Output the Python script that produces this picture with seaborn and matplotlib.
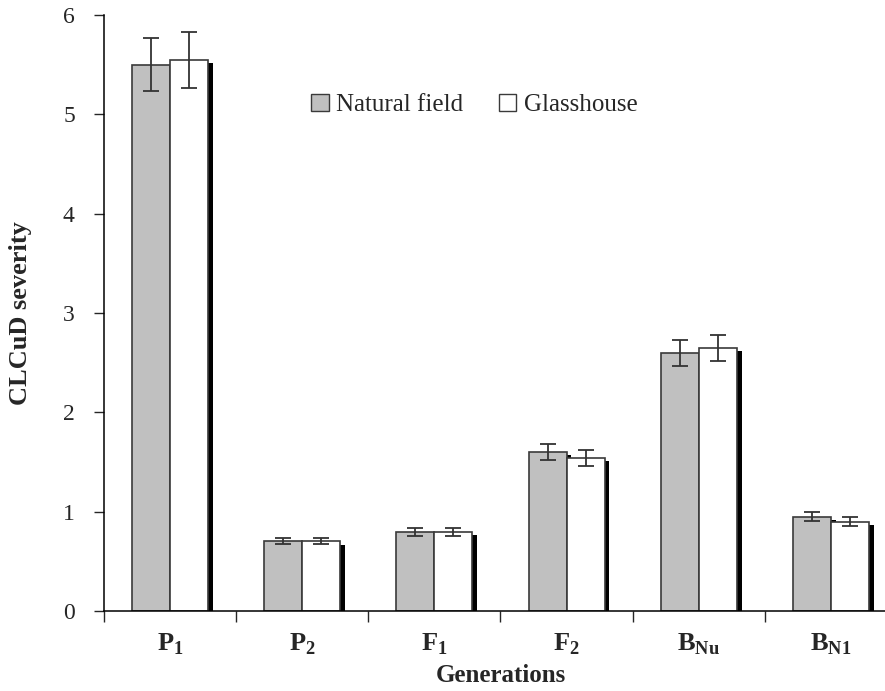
import matplotlib
matplotlib.use("Agg")
import matplotlib.pyplot as plt
import matplotlib.patheffects as pe
from matplotlib.patches import Patch
import seaborn as sns
import pandas as pd
import numpy as np

generations = ["P1", "P2", "F1", "F2", "BNu", "BN1"]
tick_labels = [r"$\mathbf{P}_{\mathbf{1}}$", r"$\mathbf{P}_{\mathbf{2}}$",
               r"$\mathbf{F}_{\mathbf{1}}$", r"$\mathbf{F}_{\mathbf{2}}$",
               r"$\mathbf{B}_{\mathbf{Nu}}$", r"$\mathbf{B}_{\mathbf{N1}}$"]
natural_field = [5.50, 0.70, 0.80, 1.60, 2.60, 0.95]
natural_err = [0.27, 0.03, 0.04, 0.08, 0.13, 0.045]
glasshouse = [5.55, 0.70, 0.80, 1.54, 2.645, 0.90]
glass_err = [0.28, 0.03, 0.04, 0.08, 0.13, 0.045]
series = ["Natural field", "Glasshouse"]

df = pd.DataFrame({
    "Generation": generations * 2,
    "Series": [series[0]] * 6 + [series[1]] * 6,
    "Value": natural_field + glasshouse,
    "Err": natural_err + glass_err,
})

sns.set_style("ticks")
plt.rcParams["font.family"] = ["Liberation Serif", "DejaVu Serif"]
plt.rcParams["mathtext.fontset"] = "custom"
plt.rcParams["mathtext.rm"] = "Liberation Serif"
plt.rcParams["mathtext.bf"] = "Liberation Serif:bold"

fig = plt.figure(figsize=(8.85, 6.91), dpi=100)
ax = fig.add_axes([104/885, 1 - 611/691, (897 - 104)/885, (611 - 15)/691])

palette = {"Natural field": "#c0c0c0", "Glasshouse": "#ffffff"}
sns.barplot(data=df, x="Generation", y="Value", hue="Series", order=generations,
            hue_order=series, palette=palette, width=0.576, gap=0,
            errorbar=None, edgecolor="#3a3a3a", linewidth=1.2, ax=ax,
            legend=False, saturation=1)

shadow = [pe.SimplePatchShadow(offset=(3.4, -2.2), shadow_rgbFace="black", alpha=1.0),
          pe.Normal()]
for container, ser in zip(ax.containers, series):
    errs = df[df["Series"] == ser].set_index("Generation").loc[generations, "Err"].values
    xs, ys = [], []
    for p in container.patches:
        p.set_path_effects(shadow)
        xs.append(p.get_x() + p.get_width() / 2)
        ys.append(p.get_height())
    ax.errorbar(xs, ys, yerr=errs, fmt="none", ecolor="#333333", elinewidth=1.3,
                capsize=5.5, capthick=1.3, zorder=5)

ax.set_ylim(0, 6)
ax.set_xlim(-0.5, 5.5)
ax.set_yticks(range(0, 7))
ax.tick_params(axis="y", labelsize=17, length=7, width=1, direction="out", pad=14)
ax.set_xticks(range(6))
ax.set_xticklabels(tick_labels, fontsize=19)
ax.tick_params(axis="x", which="major", length=0, pad=15)
ax.set_xticks(np.arange(-0.5, 5.6, 1), minor=True)
ax.tick_params(axis="x", which="minor", length=8, width=1, direction="out")
sns.despine(ax=ax)
for s in ["left", "bottom"]:
    ax.spines[s].set_linewidth(1.1)
    ax.spines[s].set_color("black")

ax.set_xlabel("Generations", fontsize=18, fontweight="bold", labelpad=5)
ax.set_ylabel("CLCuD severity", fontsize=19, fontweight="bold", labelpad=22)

handles = [Patch(facecolor=palette[s], edgecolor="#3a3a3a", linewidth=1.0) for s in series]
fig.legend(handles, series, loc="center", bbox_to_anchor=(0.536, 1 - 105/691),
           ncol=2, frameon=False, fontsize=18, handlelength=0.7, handleheight=0.7,
           handletextpad=0.3, columnspacing=1.4)

fig.savefig("out.png", dpi=100)
